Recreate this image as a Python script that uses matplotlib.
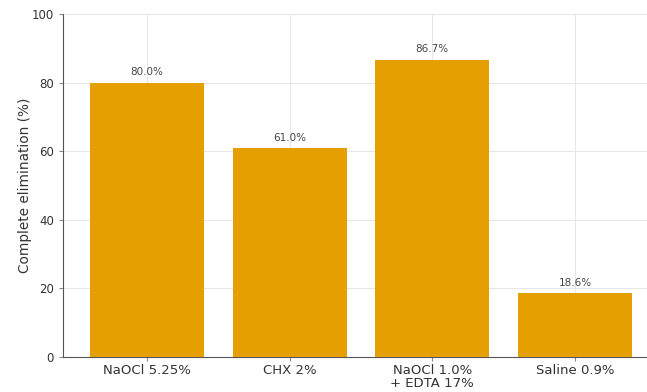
import matplotlib
matplotlib.use("Agg")
import matplotlib.pyplot as plt
import numpy as np

groups = ["NaOCl 5.25%", "CHX 2%", "NaOCl 1.0%\n+ EDTA 17%", "Saline 0.9%"]
elimination = [80.0, 61.0, 86.7, 18.6]

C_BAR = "#E69F00"
C_TXT = "#444444"

fig = plt.figure(figsize=(6.47, 3.92), dpi=100)
# axes runs past the right edge, like the cropped original
ax = fig.add_axes([63 / 647, 35 / 392, 596 / 647, 343 / 392])

xs = np.arange(len(groups))
ax.bar(xs, elimination, width=0.8, color=C_BAR, zorder=3)
for x, v in zip(xs, elimination):
    ax.text(x, v + 1.5, f"{v:.1f}%", ha="center", va="bottom", fontsize=7.5, color=C_TXT)

ax.set_xticks(xs)
ax.set_xticklabels(groups, fontsize=9.5, color="#333333", linespacing=1.0)
ax.set_ylim(0, 100)
ax.set_yticks([0, 20, 40, 60, 80, 100])
ax.tick_params(axis="y", labelsize=8.5, colors="#333333")
ax.tick_params(axis="x", pad=2)
ax.tick_params(axis="both", length=3, color="#888888")
ax.set_ylabel("Complete elimination (%)", fontsize=9.8, color="#333333", labelpad=0)
ax.grid(True, color="#e6e6e6", lw=0.7, zorder=0)
ax.spines["top"].set_visible(False)
ax.spines["right"].set_visible(False)
ax.spines["left"].set_color("#555555")
ax.spines["bottom"].set_color("#555555")

fig.savefig("out.png", dpi=100, facecolor="white")
